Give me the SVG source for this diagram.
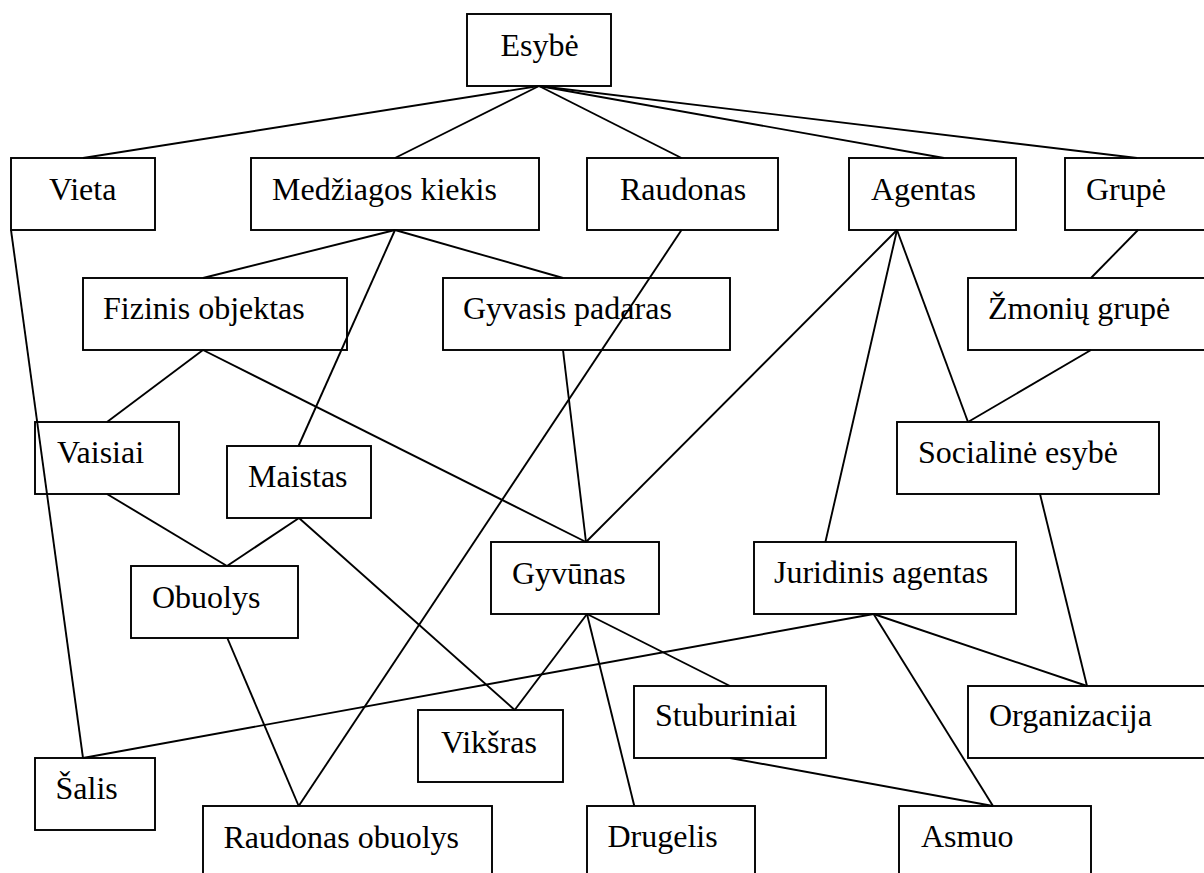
<svg xmlns="http://www.w3.org/2000/svg" width="1204" height="873" viewBox="0 0 1204 873">
  <style>
    .box { fill: none; stroke: #000; stroke-width: 1.9; }
    .lbl { font-family: "Liberation Serif", "Times New Roman", serif; font-size: 32px; fill: #000; }
    .edges line { stroke: #000; stroke-width: 1.9; }
  </style>
  <rect width="1204" height="873" fill="#fff"/>

  <!-- nodes -->
  <g id="esybe"><rect class="box" x="467" y="14" width="144" height="72"/><text class="lbl" x="500.5" y="56">Esybė</text></g>
  <g id="vieta"><rect class="box" x="11" y="158" width="144" height="72"/><text class="lbl" x="49" y="200">Vieta</text></g>
  <g id="medziagos-kiekis"><rect class="box" x="251" y="158" width="288" height="72"/><text class="lbl" x="272" y="200">Medžiagos kiekis</text></g>
  <g id="raudonas"><rect class="box" x="587" y="158" width="191" height="72"/><text class="lbl" x="620" y="200">Raudonas</text></g>
  <g id="agentas"><rect class="box" x="849" y="158" width="167" height="72"/><text class="lbl" x="871" y="200">Agentas</text></g>
  <g id="grupe"><rect class="box" x="1065" y="158" width="160" height="72"/><text class="lbl" x="1086" y="200">Grupė</text></g>
  <g id="fizinis-objektas"><rect class="box" x="83" y="278" width="264" height="72"/><text class="lbl" x="103" y="319">Fizinis objektas</text></g>
  <g id="gyvasis-padaras"><rect class="box" x="443" y="278" width="287" height="72"/><text class="lbl" x="463" y="319">Gyvasis padaras</text></g>
  <g id="zmoniu-grupe"><rect class="box" x="968" y="278" width="260" height="72"/><text class="lbl" x="988" y="319">Žmonių grupė</text></g>
  <g id="vaisiai"><rect class="box" x="35" y="422" width="144" height="72"/><text class="lbl" x="57" y="463">Vaisiai</text></g>
  <g id="maistas"><rect class="box" x="227" y="446" width="144" height="72"/><text class="lbl" x="248" y="487">Maistas</text></g>
  <g id="socialine-esybe"><rect class="box" x="897" y="422" width="262" height="72"/><text class="lbl" x="918" y="463">Socialinė esybė</text></g>
  <g id="gyvunas"><rect class="box" x="491" y="542" width="168" height="72"/><text class="lbl" x="512" y="584">Gyvūnas</text></g>
  <g id="juridinis-agentas"><rect class="box" x="754" y="542" width="262" height="72"/><text class="lbl" x="774" y="583">Juridinis agentas</text></g>
  <g id="obuolys"><rect class="box" x="131" y="566" width="167" height="72"/><text class="lbl" x="152" y="608">Obuolys</text></g>
  <g id="stuburiniai"><rect class="box" x="634" y="686" width="192" height="72"/><text class="lbl" x="655" y="726">Stuburiniai</text></g>
  <g id="organizacija"><rect class="box" x="968" y="686" width="260" height="72"/><text class="lbl" x="989" y="726">Organizacija</text></g>
  <g id="viksras"><rect class="box" x="418" y="710" width="145" height="72"/><text class="lbl" x="441" y="753">Vikšras</text></g>
  <g id="salis"><rect class="box" x="35" y="758" width="120" height="72"/><text class="lbl" x="55.5" y="799">Šalis</text></g>
  <g id="raudonas-obuolys"><rect class="box" x="203" y="806" width="289" height="90"/><text class="lbl" x="223.5" y="848">Raudonas obuolys</text></g>
  <g id="drugelis"><rect class="box" x="587" y="806" width="168" height="90"/><text class="lbl" x="607.5" y="847">Drugelis</text></g>
  <g id="asmuo"><rect class="box" x="899" y="806" width="192" height="90"/><text class="lbl" x="921" y="847">Asmuo</text></g>

  <!-- connectors -->
  <g id="connectors" class="edges">
    <line x1="539" y1="86" x2="83" y2="158"/>
    <line x1="539" y1="86" x2="395" y2="158"/>
    <line x1="539" y1="86" x2="681.5" y2="158"/>
    <line x1="539" y1="86" x2="944" y2="158"/>
    <line x1="539" y1="86" x2="1137" y2="158"/>
    <line x1="395" y1="230" x2="203" y2="278"/>
    <line x1="395" y1="230" x2="563" y2="278"/>
    <line x1="395" y1="230" x2="298.5" y2="446"/>
    <line x1="681.5" y1="230" x2="298.7" y2="806"/>
    <line x1="897" y1="230" x2="586" y2="542"/>
    <line x1="897" y1="230" x2="825.4" y2="542"/>
    <line x1="897" y1="230" x2="968" y2="422"/>
    <line x1="1138" y1="230" x2="1091" y2="278"/>
    <line x1="1091" y1="350" x2="968" y2="422"/>
    <line x1="11" y1="230" x2="83" y2="758"/>
    <line x1="203" y1="350" x2="107" y2="422"/>
    <line x1="203" y1="350" x2="586" y2="542"/>
    <line x1="563" y1="350" x2="586" y2="542"/>
    <line x1="107" y1="494" x2="227" y2="566"/>
    <line x1="299" y1="518" x2="227" y2="566"/>
    <line x1="299" y1="518" x2="514.7" y2="710"/>
    <line x1="1040" y1="494" x2="1087" y2="686"/>
    <line x1="587" y1="614" x2="514.7" y2="710"/>
    <line x1="587" y1="614" x2="634.3" y2="806"/>
    <line x1="587" y1="614" x2="730" y2="686"/>
    <line x1="873.6" y1="614" x2="83" y2="758"/>
    <line x1="873.6" y1="614" x2="1087" y2="686"/>
    <line x1="873.6" y1="614" x2="993" y2="806"/>
    <line x1="730" y1="758" x2="993" y2="806"/>
    <line x1="227.3" y1="638" x2="298.7" y2="806"/>
  </g>
</svg>
